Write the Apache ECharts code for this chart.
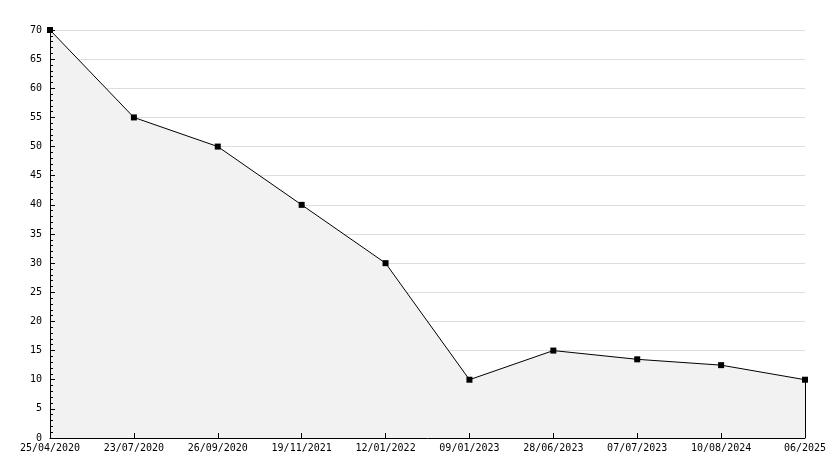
<!DOCTYPE html>
<html><head><meta charset="utf-8">
<script src="https://cdn.jsdelivr.net/npm/echarts@6/dist/echarts.min.js"></script>
<style>html,body{margin:0;padding:0;background:#fff}#c{width:834px;height:468px}</style>
</head><body><div id="c"></div>
<script>
var categories = ['25/04/2020','23/07/2020','26/09/2020','19/11/2021','12/01/2022','09/01/2023','28/06/2023','07/07/2023','10/08/2024','06/2025'];
var values = [70, 55, 50, 40, 30, 10, 15, 13.5, 12.5, 10];
var yMin = 0, yMax = 70, yStep = 5;
var font = 'DejaVu Sans Mono';
var chart = echarts.init(document.getElementById('c'));
var lastIdx = categories.length - 1;
chart.setOption({
  animation: false,
  grid: {left: 50, right: 29, top: 30, bottom: 30},
  xAxis: {
    type: 'category', data: categories, boundaryGap: false, z: 5,
    axisLine: {lineStyle: {color: '#000', width: 1}},
    axisTick: {inside: true, length: 5, alignWithLabel: true, lineStyle: {color: '#000'}},
    axisLabel: {color: '#000', fontFamily: font, fontSize: 10, margin: 5, interval: 0},
    splitLine: {show: false}
  },
  yAxis: [{
    type: 'value', min: yMin, max: yMax, interval: yStep, z: 0,
    axisLine: {show: false}, axisTick: {show: false}, axisLabel: {show: false},
    splitLine: {show: true, lineStyle: {color: '#dddddd', width: 1}}
  }, {
    type: 'value', min: yMin, max: yMax, interval: yStep, z: 5, position: 'left',
    axisLine: {show: true, lineStyle: {color: '#000', width: 1}},
    axisTick: {show: true, inside: true, length: 5, lineStyle: {color: '#000'}},
    minorTick: {show: true, splitNumber: 5, length: 3, lineStyle: {color: '#000'}},
    axisLabel: {color: '#000', fontFamily: font, fontSize: 10, margin: 8},
    splitLine: {show: false}
  }],
  series: [{
    type: 'line', data: values, yAxisIndex: 0, z: 2,
    symbol: 'rect', symbolSize: 6,
    itemStyle: {color: '#000'},
    lineStyle: {color: '#000', width: 1},
    areaStyle: {color: '#f2f2f2', opacity: 1},
    markLine: {
      silent: true, symbol: ['none','none'], label: {show: false},
      lineStyle: {color: '#000', width: 1, type: 'solid'},
      data: [[{coord: [lastIdx, yMin]}, {coord: [lastIdx, values[lastIdx]]}]]
    }
  }]
});
</script></body></html>
